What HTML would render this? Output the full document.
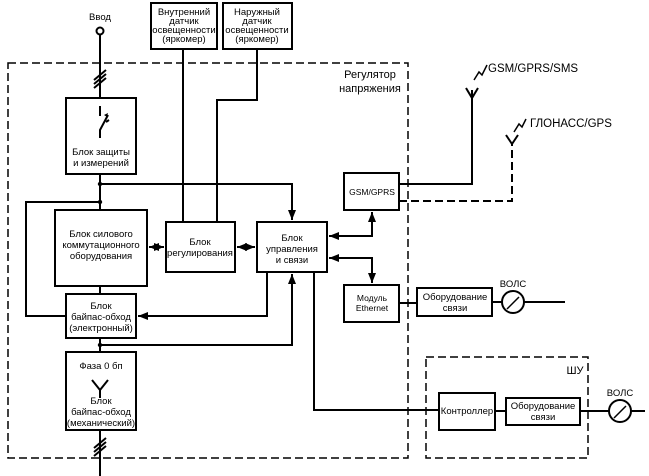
<!DOCTYPE html>
<html><head><meta charset="utf-8"><style>
body{margin:0;background:#fff}
svg{display:block}
text{font-family:"Liberation Sans",Arial,sans-serif;font-size:9.5px;fill:#000;text-anchor:middle}
</style></head><body>
<svg width="649" height="476" viewBox="0 0 649 476">
<defs>
<marker id="a" viewBox="0 0 10 10" refX="10" refY="5" markerWidth="5" markerHeight="5" orient="auto-start-reverse"><path d="M0,1 L10,5 L0,9z" fill="#000"/></marker>
</defs>
<g fill="none" stroke="#000" stroke-width="2">
<rect x="8" y="63" width="400" height="395" stroke-dasharray="8,4" stroke-width="1.5"/>
<rect x="426" y="357" width="162" height="101" stroke-dasharray="8,4" stroke-width="1.5"/>
<rect x="151" y="3" width="66" height="46"/>
<rect x="223" y="3" width="69" height="46"/>
<rect x="66" y="98" width="70" height="76"/>
<rect x="55" y="210" width="92" height="76"/>
<rect x="166" y="222" width="69" height="50"/>
<rect x="257" y="222" width="70" height="50"/>
<rect x="66" y="294" width="70" height="44"/>
<rect x="66" y="352" width="70" height="78"/>
<rect x="344" y="173" width="55" height="37"/>
<rect x="344" y="285" width="55" height="37"/>
<rect x="417" y="288" width="75" height="28"/>
<rect x="439" y="393" width="56" height="37"/>
<rect x="506" y="398" width="74" height="27"/>
<circle cx="100" cy="31" r="3.5"/>
<path d="M100 35V98M94 88l12-10M94 84l12-10M94 80l12-10" />
<path d="M100 106v10M100 138v-8l8-15M106 122l3-2" />
<path d="M100 174V210M100 286V294"/>
<path d="M100 184H292V220" marker-end="url(#a)"/>
<path d="M100 202H26V316H66"/>
<path d="M100 338V352"/>
<path d="M100 345H292V274" marker-end="url(#a)"/>
<path d="M267 272V316H138" marker-end="url(#a)"/>
<path d="M100 430V476M94 456l12-10M94 452l12-10M94 448l12-10"/>
<path d="M183 49V222M257 49V100H217V222"/>
<path d="M149 247H164" marker-start="url(#a)" marker-end="url(#a)"/>
<path d="M237 247H255" marker-start="url(#a)" marker-end="url(#a)"/>
<path d="M329 236H372V212" marker-start="url(#a)" marker-end="url(#a)"/>
<path d="M329 258H372V283" marker-start="url(#a)" marker-end="url(#a)"/>
<path d="M314 272V410H439M495 411H506M580 411H609M631 411H645"/>
<path d="M399 303H417M492 302H502M524 302H565"/>
<path d="M399 184H472V90M466 88l6 10l6-10"/>
<path d="M399 201H512V143" stroke-dasharray="8,4"/>
<path d="M506 135l6 9l6-9"/>
<path d="M474 80l5-8l3 3l5-10" stroke-width="1.5"/>
<path d="M514 132l5-8l3 3l4-8" stroke-width="1.5"/>
<circle cx="513" cy="302" r="11"/>
<circle cx="620" cy="411" r="11"/>
<path d="M507 309l7-7M512 304l7-7M614 418l7-7M619 413l7-7" stroke-width="1.5"/>
</g>
<path d="M104 115l4-2 -1 4z" fill="#000"/>
<path d="M92 380l8 10 8-10M100 390v8" fill="none" stroke="#000" stroke-width="2"/>
<g fill="#000">
<circle cx="100" cy="184" r="2.2"/><circle cx="100" cy="202" r="2.2"/><circle cx="100" cy="345" r="2.2"/>
</g>
<text x="100" y="20">Ввод</text>
<text x="184" y="15">Внутренний</text><text x="184" y="24">датчик</text><text x="184" y="33">освещенности</text><text x="184" y="42">(яркомер)</text>
<text x="257" y="15">Наружный</text><text x="257" y="24">датчик</text><text x="257" y="33">освещенности</text><text x="257" y="42">(яркомер)</text>
<text x="101" y="155">Блок защиты</text><text x="101" y="166">и измерений</text>
<text x="101" y="237">Блок силового</text><text x="101" y="248">коммутационного</text><text x="101" y="259">оборудования</text>
<text x="200" y="245">Блок</text><text x="200" y="256">регулирования</text>
<text x="292" y="241">Блок</text><text x="292" y="252">управления</text><text x="292" y="263">и связи</text>
<text x="101" y="309">Блок</text><text x="101" y="320">байпас-обход</text><text x="101" y="331">(электронный)</text>
<text x="101" y="369">Фаза 0 бп</text>
<text x="101" y="404">Блок</text><text x="101" y="415">байпас-обход</text><text x="101" y="426">(механический)</text>
<text x="372" y="195" style="font-size:8.5px">GSM/GPRS</text>
<text x="372" y="301" style="font-size:8.5px">Модуль</text><text x="372" y="311" style="font-size:8.5px">Ethernet</text>
<text x="455" y="300">Оборудование</text><text x="455" y="311">связи</text>
<text x="467" y="414">Контроллер</text>
<text x="543" y="409">Оборудование</text><text x="543" y="420">связи</text>
<text x="513" y="287">ВОЛС</text><text x="620" y="396">ВОЛС</text>
<text x="370" y="78" style="font-size:11px">Регулятор</text><text x="370" y="92" style="font-size:11px">напряжения</text>
<text x="575" y="374" style="font-size:11px">ШУ</text>
<text x="488" y="72" style="font-size:11.5px;text-anchor:start">GSM/GPRS/SMS</text>
<text x="530" y="127" style="font-size:11.5px;text-anchor:start">ГЛОНАСС/GPS</text>
</svg>
</body></html>
